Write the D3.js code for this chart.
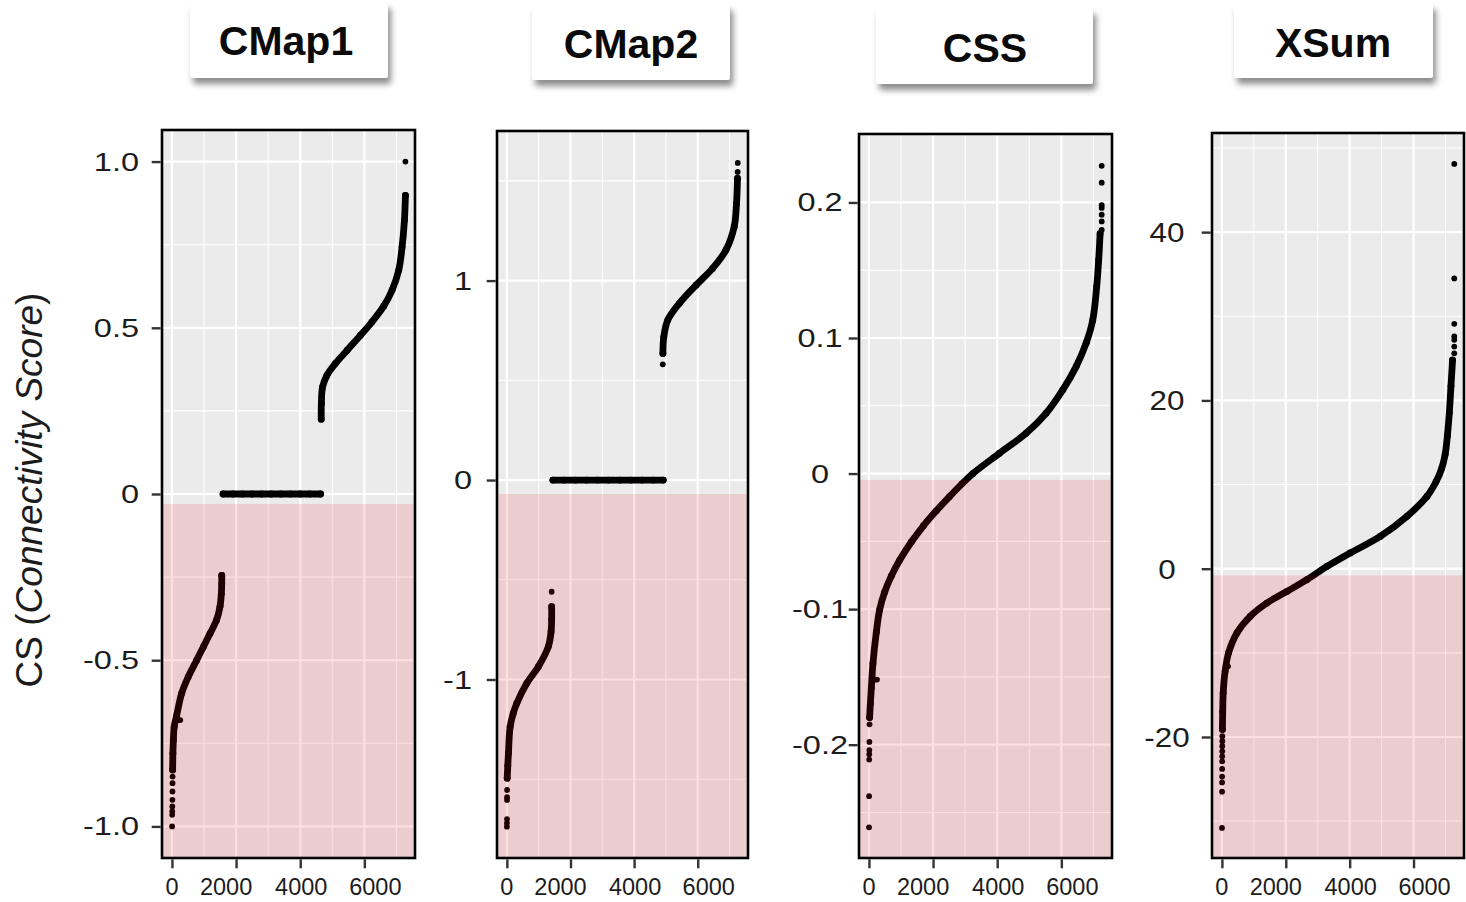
<!DOCTYPE html>
<html>
<head>
<meta charset="utf-8">
<script src="https://cdn.jsdelivr.net/npm/d3@7"></script>
<style>
  body { margin: 0; background: #ffffff; }
  svg { display: block; font-family: "Liberation Sans", Arial, Helvetica, sans-serif; }
</style>
</head>
<body>
<svg id="chart" width="1466" height="902"></svg>
<script>
// ---------------- data ----------------
const panelTitles = ["CMap1", "CMap2", "CSS", "XSum"];

// x axis: rank of each signature after sorting by score
const xTickValues = [0, 2000, 4000, 6000];
const xTickLabels = ["0", "2000", "4000", "6000"];
const xMinorValues = [1000, 3000, 5000, 7000];

// y axis ticks per method
const cmap1YTicks = [-1, -0.5, 0, 0.5, 1];
const cmap1YLabels = ["-1.0", "-0.5", "0", "0.5", "1.0"];
const cmap1YMinor = [-0.75, -0.25, 0.25, 0.75];
const cmap2YTicks = [-1, 0, 1];
const cmap2YLabels = ["-1", "0", "1"];
const cmap2YMinor = [-1.5, -0.5, 0.5, 1.5];
const cssYTicks = [-0.2, -0.1, 0, 0.1, 0.2];
const cssYLabels = ["-0.2", "-0.1", "0", "0.1", "0.2"];
const cssYMinor = [-0.25, -0.15, -0.05, 0.05, 0.15, 0.25];
const xsumYTicks = [-20, 0, 20, 40];
const xsumYLabels = ["-20", "0", "20", "40"];
const xsumYMinor = [-30, -10, 10, 30, 50];

// upper edge of the shaded "negative connectivity" band
const negativeBandTop = [-0.03, -0.07, -0.0046, -0.8];

// sorted connectivity scores as [rank, score]
// CMap1
const cmap1Negative = [[22, -0.83], [30, -0.78], [45, -0.74], [70, -0.70], [150, -0.665], [302, -0.60],
  [510, -0.55], [771, -0.50], [979, -0.46], [1187, -0.42], [1396, -0.378], [1500, -0.338],
  [1540, -0.30], [1553, -0.27], [1553, -0.245]];
const cmap1Null = [[1594, 0], [1900, 0], [2200, 0], [2500, 0], [2800, 0], [3100, 0], [3400, 0],
  [3700, 0], [4000, 0], [4300, 0], [4635, 0]];
const cmap1Positive = [[4656, 0.225], [4660, 0.272], [4698, 0.322], [4833, 0.357], [5094, 0.392],
  [5458, 0.432], [5875, 0.477], [6240, 0.518], [6604, 0.565], [6865, 0.613], [7072, 0.673],
  [7177, 0.743], [7250, 0.823], [7281, 0.898]];
const cmap1Single = [[5, -1.0], [8, -0.965], [10, -0.955], [12, -0.94], [14, -0.92], [16, -0.895],
  [18, -0.87], [20, -0.85], [200, -0.68], [260, -0.68], [7281, 1.0]];

// CMap2
const cmap2Negative = [[10, -1.495], [30, -1.43], [50, -1.37], [103, -1.237], [200, -1.17], [313, -1.119],
  [626, -1.019], [989, -0.936], [1302, -0.836], [1390, -0.76], [1408, -0.70], [1408, -0.635]];
const cmap2Null = [[1447, 0], [1800, 0], [2150, 0], [2500, 0], [2850, 0], [3200, 0], [3550, 0],
  [3900, 0], [4250, 0], [4600, 0], [4914, 0]];
const cmap2Positive = [[4905, 0.635], [4933, 0.718], [5058, 0.802], [5424, 0.886], [5947, 0.977],
  [6466, 1.061], [6886, 1.153], [7146, 1.27], [7219, 1.387], [7250, 1.512]];
const cmap2Single = [[1, -1.738], [3, -1.72], [5, -1.70], [6, -1.604], [7, -1.59], [8, -1.554],
  [1408, -0.56], [4901, 0.58], [7255, 1.545], [7258, 1.59]];

// CSS
const cssScores = [[20, -0.18], [44, -0.170], [75, -0.158], [125, -0.140], [231, -0.117], [333, -0.1005],
  [489, -0.0875], [700, -0.0755], [956, -0.064], [1321, -0.0505], [1700, -0.0385], [2100, -0.0275],
  [2513, -0.017], [2900, -0.0076], [3240, 0.0], [4072, 0.015], [4903, 0.0298], [5526, 0.0445],
  [6044, 0.0617], [6461, 0.0789], [6773, 0.0962], [6978, 0.113], [7103, 0.138], [7165, 0.1576],
  [7209, 0.177]];
const cssSingle = [[3, -0.261], [5, -0.238], [8, -0.211], [10, -0.207], [12, -0.204], [14, -0.198],
  [18, -0.185], [200, -0.152], [250, -0.152], [7259, 0.1797], [7259, 0.186], [7259, 0.191],
  [7259, 0.196], [7259, 0.198], [7259, 0.2146], [7259, 0.227]];

// XSum
const xsumScores = [[16, -19.1], [25, -17.0], [40, -14.8], [100, -12.2], [209, -10.0], [470, -7.64],
  [886, -5.67], [1409, -4.08], [2036, -2.70], [2662, -1.31], [3288, 0.27], [4018, 1.87],
  [4958, 3.84], [5794, 6.22], [6420, 8.59], [6700, 10.3], [6880, 11.9], [6990, 13.6],
  [7060, 15.8], [7120, 18.5], [7172, 21.7], [7222, 24.8]];
const xsumSingle = [[3, -30.8], [5, -26.5], [6, -25.4], [7, -24.7], [8, -23.8], [9, -22.9], [10, -22.3],
  [11, -21.7], [12, -21.1], [13, -20.5], [14, -19.9], [120, -11.6], [190, -11.6],
  [7275, 25.6], [7275, 26.4], [7275, 27.2], [7275, 27.6], [7275, 29.1], [7275, 34.5], [7275, 48.1]];

// ---------------- layout ----------------
const xDomain = [-310, 7580];
const panels = [
  { title: panelTitles[0], box: [190, 2, 388, 78], titleX: 286, titleY: 55,
    left: 162, top: 130, right: 415, bottom: 858, yDomain: [-1.095, 1.095],
    yTicks: cmap1YTicks, yLabels: cmap1YLabels, yMinor: cmap1YMinor,
    labelX: 139, labelAnchor: "end", labelSize: 25, labelStretch: 1.3,
    runs: [cmap1Negative, cmap1Null, cmap1Positive], singles: cmap1Single, band: negativeBandTop[0] },
  { title: panelTitles[1], box: [532, 4, 730, 80], titleX: 631, titleY: 58,
    left: 497, top: 131, right: 748, bottom: 858, yDomain: [-1.895, 1.75],
    yTicks: cmap2YTicks, yLabels: cmap2YLabels, yMinor: cmap2YMinor,
    labelX: 472, labelAnchor: "end", labelSize: 25, labelStretch: 1.3,
    runs: [cmap2Negative, cmap2Null, cmap2Positive], singles: cmap2Single, band: negativeBandTop[1] },
  { title: panelTitles[2], box: [876, 8, 1093, 84], titleX: 985, titleY: 62,
    left: 859, top: 134, right: 1112, bottom: 858, yDomain: [-0.2836, 0.2505],
    yTicks: cssYTicks, yLabels: cssYLabels, yMinor: cssYMinor,
    labelX: 820, labelAnchor: "middle", labelSize: 25, labelStretch: 1.3,
    runs: [cssScores], singles: cssSingle, band: negativeBandTop[2] },
  { title: panelTitles[3], box: [1234, 3, 1433, 78], titleX: 1333, titleY: 57,
    left: 1212, top: 133, right: 1464, bottom: 858, yDomain: [-34.38, 51.78],
    yTicks: xsumYTicks, yLabels: xsumYLabels, yMinor: xsumYMinor,
    labelX: 1167, labelAnchor: "middle", labelSize: 28, labelStretch: 1.12,
    runs: [xsumScores], singles: xsumSingle, band: negativeBandTop[3] }
];
const xLabelNudge = [0, -10, 1, 11];

const RUN_WIDTH = 6.8;   // width of the dense band of overlapping points
const DOT_R = 2.9;       // isolated points
const textColor = "#1c1c1c";

// ---------------- drawing ----------------
const svg = d3.select("#chart");
svg.append("rect").attr("width", 1466).attr("height", 902).attr("fill", "#ffffff");

const defs = svg.append("defs");
const shadow = defs.append("filter").attr("id", "titleShadow")
  .attr("x", "-20%").attr("y", "-20%").attr("width", "140%").attr("height", "160%");
shadow.append("feDropShadow").attr("dx", 3).attr("dy", 6).attr("stdDeviation", 3)
  .attr("flood-color", "#000000").attr("flood-opacity", 0.45);

// y axis title
const yTitle = svg.append("text")
  .attr("transform", "translate(42,490) rotate(-90)")
  .attr("text-anchor", "middle")
  .attr("font-size", 37)
  .attr("fill", textColor);
yTitle.append("tspan").text("CS (");
yTitle.append("tspan").attr("font-style", "italic").text("Connectivity Score");
yTitle.append("tspan").text(")");

panels.forEach((p) => {
  const x = d3.scaleLinear().domain(xDomain).range([p.left, p.right]);
  const y = d3.scaleLinear().domain(p.yDomain).range([p.bottom, p.top]);
  const g = svg.append("g");

  // title card
  const [bx0, by0, bx1, by1] = p.box;
  g.append("rect").attr("x", bx0).attr("y", by0).attr("width", bx1 - bx0).attr("height", by1 - by0)
    .attr("rx", 3).attr("fill", "#ffffff").attr("filter", "url(#titleShadow)");
  g.append("text").attr("x", p.titleX).attr("y", p.titleY).attr("text-anchor", "middle")
    .attr("font-size", 41).attr("font-weight", "bold").attr("fill", "#0a0a0a").text(p.title);

  // panel background
  g.append("rect").attr("x", p.left).attr("y", p.top)
    .attr("width", p.right - p.left).attr("height", p.bottom - p.top).attr("fill", "#ebebeb");

  const grid = g.append("g").attr("stroke", "#ffffff");
  grid.selectAll("line.ymin").data(p.yMinor).join("line")
    .attr("x1", p.left).attr("x2", p.right).attr("y1", d => y(d)).attr("y2", d => y(d)).attr("stroke-width", 1.1);
  grid.selectAll("line.xmin").data(xMinorValues).join("line")
    .attr("y1", p.top).attr("y2", p.bottom).attr("x1", d => x(d)).attr("x2", d => x(d)).attr("stroke-width", 1.1);
  grid.selectAll("line.ymaj").data(p.yTicks).join("line")
    .attr("x1", p.left).attr("x2", p.right).attr("y1", d => y(d)).attr("y2", d => y(d)).attr("stroke-width", 2.2);
  grid.selectAll("line.xmaj").data(xTickValues).join("line")
    .attr("y1", p.top).attr("y2", p.bottom).attr("x1", d => x(d)).attr("x2", d => x(d)).attr("stroke-width", 2.2);

  // sorted scores
  const line = d3.line().x(d => x(d[0])).y(d => y(d[1])).curve(d3.curveCatmullRom.alpha(0.5));
  const marks = g.append("g");
  p.runs.forEach(run => {
    marks.append("path").datum(run).attr("d", line)
      .attr("fill", "none").attr("stroke", "#000000").attr("stroke-width", RUN_WIDTH)
      .attr("stroke-linecap", "round").attr("stroke-linejoin", "round");
    marks.append("g").selectAll("circle").data(run).join("circle")
      .attr("cx", d => x(d[0])).attr("cy", d => y(d[1])).attr("r", RUN_WIDTH / 2).attr("fill", "#000000");
  });
  marks.append("g").selectAll("circle").data(p.singles).join("circle")
    .attr("cx", d => x(d[0])).attr("cy", d => y(d[1])).attr("r", DOT_R).attr("fill", "#000000");

  // negative band
  g.append("rect").attr("x", p.left).attr("y", y(p.band))
    .attr("width", p.right - p.left).attr("height", p.bottom - y(p.band))
    .attr("fill", "#f2041c").attr("fill-opacity", 0.13);

  // frame
  g.append("rect").attr("x", p.left).attr("y", p.top)
    .attr("width", p.right - p.left).attr("height", p.bottom - p.top)
    .attr("fill", "none").attr("stroke", "#000000").attr("stroke-width", 2.6);

  // axes (ticks only; labels placed below)
  const yAxis = g.append("g").attr("transform", `translate(${p.left - 1.3},0)`)
    .call(d3.axisLeft(y).tickValues(p.yTicks).tickSize(9).tickFormat(""));
  const xAxis = g.append("g").attr("transform", `translate(0,${p.bottom + 1.3})`)
    .call(d3.axisBottom(x).tickValues(xTickValues).tickSize(9).tickFormat(""));
  [yAxis, xAxis].forEach(a => {
    a.select(".domain").remove();
    a.selectAll(".tick line").attr("stroke", "#333333").attr("stroke-width", 2.4);
  });

  // y tick labels
  g.append("g").selectAll("text").data(p.yTicks).join("text")
    .attr("transform", d => `translate(${p.labelX},${y(d)}) scale(${p.labelStretch},1)`)
    .attr("dy", "0.36em")
    .attr("text-anchor", p.labelAnchor)
    .attr("font-size", p.labelSize)
    .attr("fill", textColor)
    .text((d, i) => p.yLabels[i]);

  // x tick labels
  g.append("g").selectAll("text").data(xTickValues).join("text")
    .attr("x", (d, i) => x(d) + xLabelNudge[i])
    .attr("y", 895)
    .attr("text-anchor", "middle")
    .attr("font-size", 23.5)
    .attr("fill", textColor)
    .text((d, i) => xTickLabels[i]);
});
</script>
</body>
</html>
